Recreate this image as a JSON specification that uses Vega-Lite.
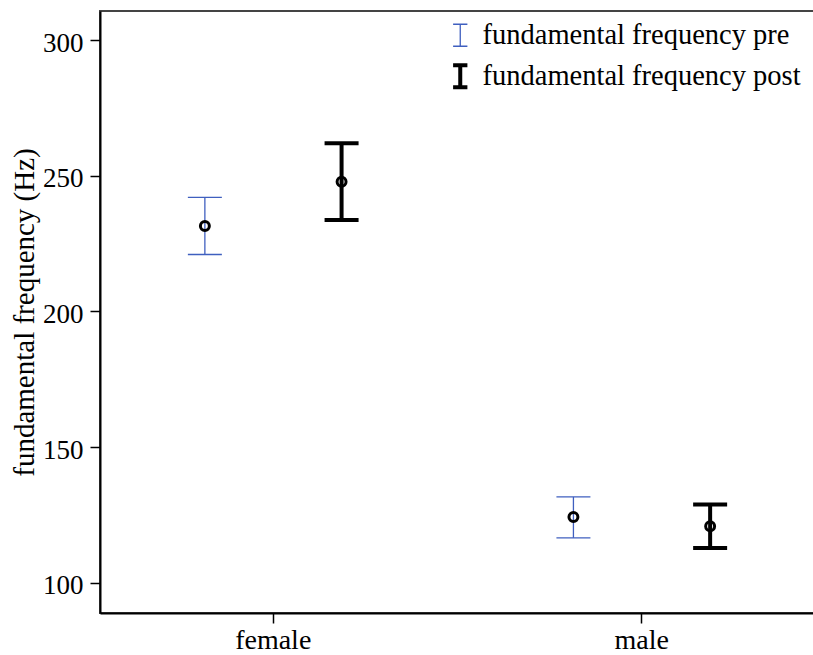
{
  "$schema": "https://vega.github.io/schema/vega-lite/v6.json",
  "autosize": "none",
  "width": 715,
  "height": 602,
  "padding": {"left": 100, "top": 11, "right": 0, "bottom": 42},
  "background": "white",
  "config": {
    "font": "Liberation Serif",
    "view": {"stroke": "#444444", "strokeWidth": 2},
    "axis": {
      "grid": false,
      "domainColor": "black",
      "domainWidth": 2,
      "tickColor": "black",
      "tickWidth": 1.5,
      "tickSize": 10,
      "labelFont": "Liberation Serif",
      "labelColor": "black",
      "titleFont": "Liberation Serif",
      "titleFontSize": 29,
      "titleFontWeight": "normal",
      "titleColor": "black"
    },
    "legend": {
      "labelFont": "Liberation Serif",
      "labelFontSize": 28.5,
      "labelColor": "black",
      "labelLimit": 500
    }
  },
  "data": {
    "values": [
      {"sex": "female", "series": "fundamental frequency pre", "mean": 231.5, "lo": 221.0, "hi": 242.1},
      {"sex": "female", "series": "fundamental frequency post", "mean": 247.8, "lo": 233.7, "hi": 262.0},
      {"sex": "male", "series": "fundamental frequency pre", "mean": 124.2, "lo": 116.5, "hi": 131.6},
      {"sex": "male", "series": "fundamental frequency post", "mean": 120.8, "lo": 112.8, "hi": 128.8}
    ]
  },
  "encoding": {
    "x": {
      "field": "sex",
      "type": "nominal",
      "scale": {"paddingInner": 0.5, "paddingOuter": 0.22},
      "axis": {"title": null, "labelAngle": 0, "labelPadding": 3, "labelFontSize": 28}
    },
    "xOffset": {
      "field": "series",
      "type": "nominal",
      "sort": ["fundamental frequency pre", "fundamental frequency post"],
      "scale": {"type": "point", "padding": 0.174}
    }
  },
  "layer": [
    {
      "mark": {"type": "rule", "opacity": 1},
      "encoding": {
        "y": {
          "field": "lo",
          "type": "quantitative",
          "scale": {"domain": [88.8, 310.8], "nice": false, "zero": false},
          "axis": {
            "title": "fundamental frequency (Hz)",
            "values": [100, 150, 200, 250, 300],
            "labelFontSize": 27,
            "labelPadding": 7,
            "labelOffset": 3,
            "titlePadding": 3
          }
        },
        "y2": {"field": "hi"},
        "color": {
          "field": "series",
          "type": "nominal",
          "sort": ["fundamental frequency pre", "fundamental frequency post"],
          "scale": {"domain": ["fundamental frequency pre", "fundamental frequency post"], "range": ["#3f5fbf", "black"]},
          "legend": {
            "title": null,
            "orient": "none",
            "legendX": 346,
            "legendY": 10,
            "padding": 0,
            "rowPadding": 7,
            "labelOffset": 8,
            "symbolType": "M-0.65,-1H0.65M0,-1V1M-0.65,1H0.65",
            "symbolSize": 484,
            "symbolFillColor": "transparent"
          }
        },
        "strokeWidth": {
          "field": "series",
          "type": "nominal",
          "sort": ["fundamental frequency pre", "fundamental frequency post"],
          "scale": {"domain": ["fundamental frequency pre", "fundamental frequency post"], "range": [1.3, 4]},
          "legend": {
            "title": null,
            "orient": "none",
            "legendX": 346,
            "legendY": 10,
            "padding": 0,
            "rowPadding": 7,
            "labelOffset": 8,
            "symbolType": "M-0.65,-1H0.65M0,-1V1M-0.65,1H0.65",
            "symbolSize": 484,
            "symbolFillColor": "transparent"
          }
        }
      }
    },
    {
      "transform": [
        {"filter": "datum.series === 'fundamental frequency pre'"},
        {"fold": ["lo", "hi"], "as": ["end", "v"]}
      ],
      "mark": {"type": "tick", "orient": "horizontal", "size": 34, "thickness": 1.3, "color": "#3f5fbf", "opacity": 1},
      "encoding": {"y": {"field": "v", "type": "quantitative"}}
    },
    {
      "transform": [
        {"filter": "datum.series === 'fundamental frequency post'"},
        {"fold": ["lo", "hi"], "as": ["end", "v"]}
      ],
      "mark": {"type": "tick", "orient": "horizontal", "size": 34, "thickness": 4, "color": "black", "opacity": 1},
      "encoding": {"y": {"field": "v", "type": "quantitative"}}
    },
    {
      "mark": {"type": "point", "shape": "circle", "filled": false, "size": 80, "strokeWidth": 3, "color": "black", "opacity": 1},
      "encoding": {"y": {"field": "mean", "type": "quantitative"}}
    }
  ]
}
